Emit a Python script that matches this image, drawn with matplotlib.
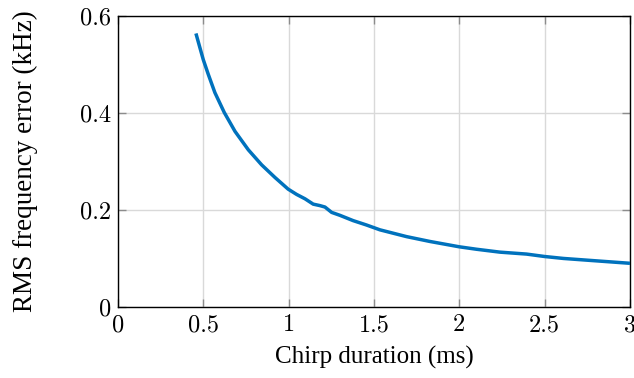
import matplotlib
matplotlib.use("Agg")
import matplotlib.pyplot as plt

# Data
chirp_ms = [0.457, 0.480, 0.500, 0.529, 0.568, 0.623, 0.686, 0.764, 0.842, 0.920,
            0.997, 1.047, 1.096, 1.144, 1.183, 1.213, 1.252, 1.300, 1.378, 1.456,
            1.535, 1.691, 1.828, 2.000, 2.100, 2.238, 2.394, 2.500, 2.610, 2.765, 3.000]
rms_khz = [0.564, 0.535, 0.510, 0.480, 0.442, 0.401, 0.362, 0.324, 0.293, 0.267,
           0.243, 0.232, 0.223, 0.212, 0.209, 0.206, 0.195, 0.189, 0.178, 0.169,
           0.159, 0.145, 0.135, 0.124, 0.119, 0.113, 0.109, 0.104, 0.100, 0.096, 0.090]
xticks = [0, 0.5, 1, 1.5, 2, 2.5, 3]
xticklabels = ["0", "0.5", "1", "1.5", "2", "2.5", "3"]
yticks = [0, 0.2, 0.4, 0.6]
yticklabels = ["0", "0.2", "0.4", "0.6"]

plt.rcParams['axes.formatter.use_mathtext'] = True
serif = ["Liberation Serif", "STIXGeneral", "DejaVu Serif"]
fig = plt.figure(figsize=(6.34, 3.78), dpi=100)
ax = fig.add_axes([0.186, 0.188, 0.8077, 0.7697])

ax.plot(chirp_ms, rms_khz, color="#0072BD", lw=2.5, solid_capstyle="butt",
        solid_joinstyle="round", zorder=3)
ax.set_xlim(0, 3)
ax.set_ylim(0, 0.6)
ax.set_xticks(xticks)
ax.set_xticklabels(xticklabels, fontfamily="cmr10", fontsize=17.5)
ax.set_yticks(yticks)
ax.set_yticklabels(yticklabels, fontfamily="cmr10", fontsize=17.5)
ax.grid(True, color="#d9d9d9", lw=1.0, zorder=0)
ax.tick_params(direction="in", length=6, width=1.0, color="#8c8c8c",
               top=True, right=True, pad=5)
for s in ax.spines.values():
    s.set_linewidth(1.0)
    s.set_color("black")

ax.set_xlabel("Chirp duration (ms)", fontfamily=serif, fontsize=18, labelpad=7)
ax.set_ylabel("RMS frequency error (kHz)", fontfamily=serif, fontsize=19.5, labelpad=30)

fig.savefig("out.png", dpi=100)
